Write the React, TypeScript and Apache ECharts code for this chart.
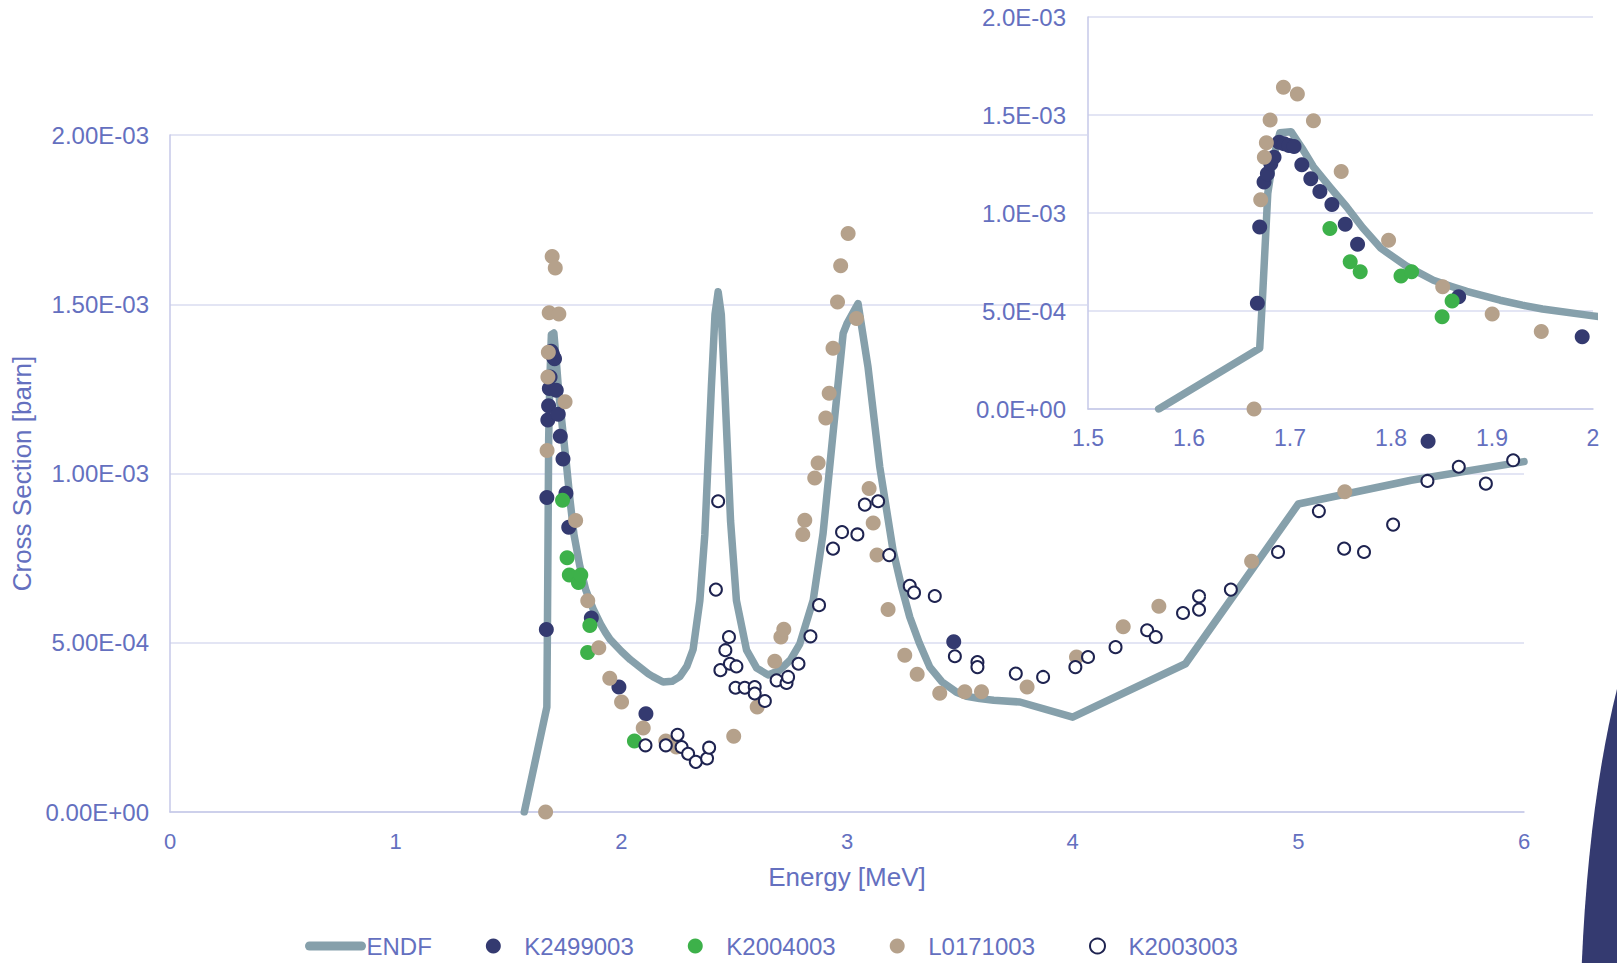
import React, { useEffect, useRef } from "react";
import * as echarts from "echarts";

// ENDF evaluated cross section
const endfE = [1.57, 1.67, 1.673, 1.678, 1.683, 1.69, 1.701, 1.712, 1.723, 1.74, 1.756, 1.772, 1.79, 1.815, 1.842, 1.86, 1.875, 1.908, 1.93, 1.95, 2.0, 2.04, 2.082, 2.12, 2.14, 2.185, 2.225, 2.259, 2.29, 2.318, 2.348, 2.37, 2.399, 2.415, 2.429, 2.443, 2.458, 2.484, 2.51, 2.555, 2.6, 2.65, 2.7, 2.75, 2.791, 2.85, 2.894, 2.938, 2.983, 3.0, 3.049, 3.093, 3.145, 3.204, 3.24, 3.278, 3.32, 3.367, 3.42, 3.485, 3.53, 3.588, 3.65, 3.766, 4.0, 4.5, 5.0, 5.5, 6.0];
const endfXS = [0, 3.1e-4, 5.9e-4, 1.1e-3, 1.27e-3, 1.41e-3, 1.415e-3, 1.33e-3, 1.237e-3, 1.13e-3, 1.032e-3, 9.25e-4, 8.2e-4, 7.3e-4, 6.57e-4, 6.25e-4, 6.0e-4, 5.55e-4, 5.3e-4, 5.1e-4, 4.75e-4, 4.5e-4, 4.28e-4, 4.08e-4, 4.0e-4, 3.84e-4, 3.86e-4, 4.0e-4, 4.3e-4, 4.8e-4, 6.25e-4, 8.2e-4, 1.256e-3, 1.47e-3, 1.537e-3, 1.47e-3, 1.256e-3, 8.6e-4, 6.25e-4, 4.78e-4, 4.25e-4, 4.05e-4, 4.18e-4, 4.5e-4, 4.97e-4, 6.25e-4, 8.23e-4, 1.118e-3, 1.414e-3, 1.443e-3, 1.502e-3, 1.315e-3, 1.02e-3, 7.73e-4, 6.7e-4, 5.76e-4, 5.0e-4, 4.28e-4, 3.85e-4, 3.54e-4, 3.42e-4, 3.35e-4, 3.3e-4, 3.25e-4, 2.8e-4, 4.38e-4, 9.1e-4, 9.8e-4, 1.035e-3];

// K2499003
const k2499E = [1.6677, 1.67, 1.6743, 1.6776, 1.681, 1.6842, 1.6892, 1.6941, 1.699, 1.704, 1.7117, 1.7206, 1.7296, 1.7415, 1.7547, 1.7669, 1.867, 1.9893, 2.109, 3.473, 5.575];
const k2499XS = [5.39e-4, 9.29e-4, 1.158e-3, 1.2e-3, 1.251e-3, 1.285e-3, 1.361e-3, 1.353e-3, 1.344e-3, 1.339e-3, 1.246e-3, 1.175e-3, 1.11e-3, 1.043e-3, 9.42e-4, 8.41e-4, 5.73e-4, 3.69e-4, 2.9e-4, 5.03e-4, 1.095e-3];

// K2004003
const k2004E = [1.7395, 1.7596, 1.7695, 1.8099, 1.8204, 1.8506, 1.8605, 2.058];
const k2004XS = [9.21e-4, 7.51e-4, 7.0e-4, 6.78e-4, 7.0e-4, 4.71e-4, 5.51e-4, 2.1e-4];

// L0171003
const l0171E = [1.6644, 1.671, 1.6746, 1.6766, 1.6803, 1.6935, 1.7073, 1.7232, 1.7507, 1.7976, 1.8512, 1.9002, 1.9488, 2.001, 2.097, 2.197, 2.244, 2.498, 2.602, 2.68, 2.707, 2.72, 2.804, 2.813, 2.857, 2.872, 2.906, 2.921, 2.938, 2.958, 2.972, 3.005, 3.042, 3.098, 3.116, 3.133, 3.182, 3.256, 3.311, 3.411, 3.522, 3.596, 3.798, 4.017, 4.224, 4.382, 4.793, 5.206];
const l0171XS = [0, 1.068e-3, 1.285e-3, 1.358e-3, 1.475e-3, 1.641e-3, 1.607e-3, 1.471e-3, 1.212e-3, 8.61e-4, 6.24e-4, 4.85e-4, 3.95e-4, 3.25e-4, 2.48e-4, 2.1e-4, 1.92e-4, 2.24e-4, 3.1e-4, 4.45e-4, 5.17e-4, 5.4e-4, 8.2e-4, 8.62e-4, 9.87e-4, 1.031e-3, 1.164e-3, 1.237e-3, 1.37e-3, 1.507e-3, 1.614e-3, 1.709e-3, 1.458e-3, 9.56e-4, 8.54e-4, 7.59e-4, 5.98e-4, 4.63e-4, 4.07e-4, 3.51e-4, 3.55e-4, 3.55e-4, 3.69e-4, 4.58e-4, 5.47e-4, 6.08e-4, 7.41e-4, 9.46e-4];

// K2003003
const k2003E = [2.107, 2.197, 2.249, 2.267, 2.296, 2.33, 2.38, 2.389, 2.419, 2.429, 2.439, 2.461, 2.477, 2.481, 2.506, 2.51, 2.547, 2.591, 2.591, 2.636, 2.688, 2.732, 2.739, 2.785, 2.838, 2.876, 2.938, 2.978, 3.046, 3.079, 3.138, 3.187, 3.278, 3.297, 3.389, 3.478, 3.578, 3.578, 3.748, 3.869, 4.012, 4.068, 4.19, 4.33, 4.368, 4.489, 4.56, 4.56, 4.701, 4.91, 5.091, 5.203, 5.291, 5.42, 5.572, 5.711, 5.831, 5.952];
const k2003XS = [1.97e-4, 1.97e-4, 2.28e-4, 1.92e-4, 1.72e-4, 1.48e-4, 1.58e-4, 1.9e-4, 6.57e-4, 9.18e-4, 4.19e-4, 4.78e-4, 5.17e-4, 4.38e-4, 3.67e-4, 4.3e-4, 3.67e-4, 3.69e-4, 3.5e-4, 3.28e-4, 3.89e-4, 3.81e-4, 3.99e-4, 4.38e-4, 5.19e-4, 6.11e-4, 7.78e-4, 8.27e-4, 8.2e-4, 9.08e-4, 9.18e-4, 7.59e-4, 6.68e-4, 6.48e-4, 6.38e-4, 4.6e-4, 4.43e-4, 4.28e-4, 4.09e-4, 3.99e-4, 4.28e-4, 4.58e-4, 4.87e-4, 5.37e-4, 5.17e-4, 5.88e-4, 5.98e-4, 6.37e-4, 6.57e-4, 7.68e-4, 8.89e-4, 7.78e-4, 7.68e-4, 8.49e-4, 9.78e-4, 1.02e-3, 9.7e-4, 1.039e-3];

const seriesNames = ["ENDF", "K2499003", "K2004003", "L0171003", "K2003003"];

const TEXT = "#6470bf";
const GRID = "#dadcf0";
const AXIS = "#c6c9e8";
const ENDF_COLOR = "#86a0ab";
const FONT = "'Liberation Sans', Arial, sans-serif";

const zip = (a: number[], b: number[]) => a.map((v, i) => [v, b[i]]);

const fmtE = (v: number, d: number) => {
  const s = v.toExponential(d);
  const [m, e] = s.split("e");
  const n = parseInt(e, 10);
  return m + "E" + (n < 0 ? "-" : "+") + String(Math.abs(n)).padStart(2, "0");
};

export default function App() {
  const ref = useRef<HTMLDivElement>(null);
  useEffect(() => {
    if (!ref.current) return;
    const chart = echarts.init(ref.current, null, { renderer: "svg" });

    const makeSeries = (gi: number, z: number) => [
      {
        name: seriesNames[0],
        type: "line",
        xAxisIndex: gi,
        yAxisIndex: gi,
        data: zip(endfE, endfXS),
        symbol: "none",
        smooth: false,
        lineStyle: { color: ENDF_COLOR, width: 7.5, cap: "round", join: "round" },
        itemStyle: { color: ENDF_COLOR },
        z,
      },
      {
        name: seriesNames[1],
        type: "scatter",
        xAxisIndex: gi,
        yAxisIndex: gi,
        data: zip(k2499E, k2499XS),
        symbolSize: 15,
        itemStyle: { color: "#343a70", opacity: 1 },
        z: z + 1,
      },
      {
        name: seriesNames[2],
        type: "scatter",
        xAxisIndex: gi,
        yAxisIndex: gi,
        data: zip(k2004E, k2004XS),
        symbolSize: 15,
        itemStyle: { color: "#3db14a", opacity: 1 },
        z: z + 2,
      },
      {
        name: seriesNames[3],
        type: "scatter",
        xAxisIndex: gi,
        yAxisIndex: gi,
        data: zip(l0171E, l0171XS),
        symbolSize: 15,
        itemStyle: { color: "#b5a18b", opacity: 1 },
        z: z + 3,
      },
      {
        name: seriesNames[4],
        type: "scatter",
        xAxisIndex: gi,
        yAxisIndex: gi,
        data: zip(k2003E, k2003XS),
        symbolSize: 12,
        itemStyle: { color: "#ffffff", borderColor: "#1e2350", borderWidth: 2, opacity: 1 },
        z: z + 4,
      },
    ];

    chart.setOption({
      animation: false,
      textStyle: { fontFamily: FONT },
      grid: [
        { left: 170, right: 93, top: 135, bottom: 151 },
        { left: 1088, right: 24, top: 17, bottom: 554 },
      ],
      legend: {
        data: [
          {
            name: seriesNames[0],
            itemStyle: { opacity: 0 },
            lineStyle: { width: 9, cap: "round", color: ENDF_COLOR },
          },
          seriesNames[1],
          seriesNames[2],
          seriesNames[3],
          seriesNames[4],
        ],
        left: 300,
        top: 929,
        itemWidth: 52,
        itemHeight: 15,
        itemGap: 54,
        textStyle: { color: TEXT, fontSize: 24, fontFamily: FONT },
      },
      xAxis: [
        {
          gridIndex: 0,
          type: "value",
          min: 0,
          max: 6,
          interval: 1,
          name: "Energy [MeV]",
          nameLocation: "middle",
          nameGap: 52,
          nameTextStyle: { color: TEXT, fontSize: 26, fontFamily: FONT },
          axisLine: { show: true, lineStyle: { color: AXIS, width: 1.5 } },
          axisTick: { show: false },
          splitLine: { show: false },
          axisLabel: { color: TEXT, fontSize: 22, margin: 18, fontFamily: FONT },
        },
        {
          gridIndex: 1,
          type: "value",
          min: 1.5,
          max: 2,
          interval: 0.1,
          z: 3,
          axisLine: { show: true, lineStyle: { color: AXIS, width: 1.5 } },
          axisTick: { show: false },
          splitLine: { show: false },
          axisLabel: { color: TEXT, fontSize: 23, margin: 17, fontFamily: FONT },
        },
      ],
      yAxis: [
        {
          gridIndex: 0,
          type: "value",
          min: 0,
          max: 2e-3,
          interval: 5e-4,
          name: "Cross Section [barn]",
          nameLocation: "middle",
          nameGap: 134,
          nameTextStyle: { color: TEXT, fontSize: 26, fontFamily: FONT },
          axisLine: { show: true, lineStyle: { color: AXIS, width: 1.5 } },
          axisTick: { show: false },
          splitLine: { show: true, lineStyle: { color: GRID, width: 1.5 } },
          axisLabel: { color: TEXT, fontSize: 24, margin: 21, fontFamily: FONT, formatter: (v: number) => fmtE(v, 2) },
        },
        {
          gridIndex: 1,
          type: "value",
          min: 0,
          max: 2e-3,
          interval: 5e-4,
          z: 3,
          axisLine: { show: true, lineStyle: { color: AXIS, width: 1.5 } },
          axisTick: { show: false },
          splitLine: { show: true, lineStyle: { color: GRID, width: 1.5 } },
          axisLabel: { color: TEXT, fontSize: 24, margin: 22, fontFamily: FONT, formatter: (v: number) => fmtE(v, 1) },
        },
      ],
      graphic: [
        {
          type: "rect",
          z: 1,
          silent: true,
          shape: { x: 1087, y: 15, width: 520, height: 395 },
          style: { fill: "#ffffff" },
        },
        {
          type: "ellipse",
          z: 20,
          silent: true,
          shape: { cx: 1700, cy: 1050, rx: 120, ry: 500 },
          style: { fill: "#343a70" },
        },
      ],
      series: [...makeSeries(0, 2), ...makeSeries(1, 10)],
    });
    return () => chart.dispose();
  }, []);
  return <div ref={ref} style={{ width: 1617, height: 963, position: "absolute", left: 0, top: 0 }} />;
}
